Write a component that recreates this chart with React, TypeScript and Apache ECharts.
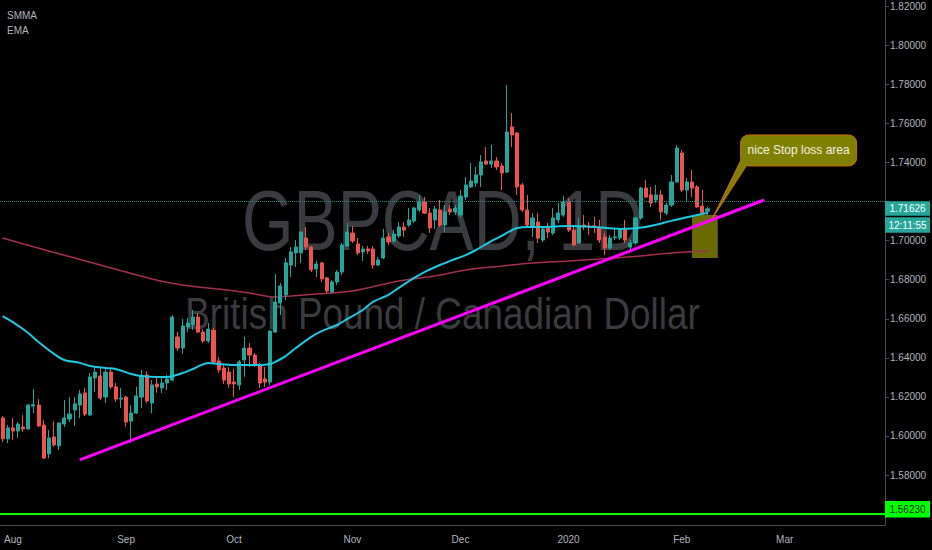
import { useEffect, useRef } from 'react';
import * as echarts from 'echarts';

const CHART_W = 932;
const CHART_H = 550;
const GRID_RIGHT = 47;
const GRID_BOTTOM = 25;
const FONT = "'Liberation Sans', Arial, sans-serif";
const WATERMARK_FONT = "'Liberation Sans', Arial, sans-serif";

// daily forex sessions, weekends and the two closed days skipped
const FIRST_SESSION = '2019-07-30';
const SESSION_COUNT = 172;
const closedDays = ['2019-12-25', '2020-01-01'];

const monthLabels: Record<string, string> = {
  '2019-08-01': 'Aug',
  '2019-09-02': 'Sep',
  '2019-10-01': 'Oct',
  '2019-11-01': 'Nov',
  '2019-12-02': 'Dec',
  '2020-01-02': '2020',
  '2020-02-03': 'Feb',
  '2020-03-02': 'Mar',
};

const priceTicks = [1.56, 1.58, 1.6, 1.62, 1.64, 1.66, 1.68, 1.7, 1.72, 1.74, 1.76, 1.78, 1.8, 1.82];
// 1.56 and 1.72 sit under the price tags on the scale
const priceLabels = [1.58, 1.6, 1.62, 1.64, 1.66, 1.68, 1.7, 1.74, 1.76, 1.78, 1.8, 1.82];

// [open, close, low, high]
const candles: [number, number, number, number][] = [
  [1.6092, 1.5985, 1.5969, 1.6102], [1.5985, 1.6041, 1.5964, 1.6056], [1.6041, 1.6025, 1.598, 1.6092], [1.6025, 1.6061, 1.599, 1.6071],
  [1.6046, 1.6036, 1.602, 1.6107], [1.6036, 1.6158, 1.603, 1.6163], [1.6153, 1.616, 1.6117, 1.624], [1.6158, 1.6051, 1.6046, 1.6189],
  [1.6056, 1.5887, 1.5882, 1.6082], [1.5908, 1.599, 1.5885, 1.603], [1.5995, 1.5954, 1.5944, 1.6076], [1.5949, 1.6066, 1.5928, 1.607],
  [1.6061, 1.6092, 1.6046, 1.6184], [1.6087, 1.6112, 1.6071, 1.6199], [1.6133, 1.6164, 1.6051, 1.6199], [1.6158, 1.6215, 1.6092, 1.6235],
  [1.622, 1.6112, 1.6102, 1.6246], [1.6107, 1.6302, 1.6102, 1.6322], [1.6297, 1.6327, 1.6225, 1.6353], [1.6307, 1.6194, 1.6184, 1.6348],
  [1.6199, 1.6327, 1.6169, 1.6348], [1.6327, 1.6251, 1.624, 1.6343], [1.6251, 1.6189, 1.6174, 1.6271], [1.6189, 1.6194, 1.6143, 1.6246],
  [1.6199, 1.6071, 1.6046, 1.6205], [1.6076, 1.6117, 1.5964, 1.6158], [1.6117, 1.6205, 1.6112, 1.6251], [1.6199, 1.6307, 1.6143, 1.6338],
  [1.6312, 1.6179, 1.6169, 1.6332], [1.6169, 1.6261, 1.6117, 1.6286], [1.6266, 1.6251, 1.622, 1.6302], [1.6246, 1.6271, 1.622, 1.6307],
  [1.6271, 1.6292, 1.6235, 1.6312], [1.6286, 1.6609, 1.6281, 1.6619], [1.6507, 1.645, 1.6435, 1.6532], [1.645, 1.6563, 1.642, 1.6599],
  [1.6558, 1.6578, 1.6532, 1.6604], [1.6568, 1.6609, 1.6542, 1.6645], [1.6609, 1.6532, 1.6527, 1.6629], [1.6532, 1.6486, 1.6476, 1.6547],
  [1.6486, 1.6547, 1.6476, 1.6578], [1.6542, 1.6379, 1.6374, 1.6553], [1.6384, 1.6338, 1.6322, 1.6404], [1.6348, 1.6286, 1.6266, 1.6363],
  [1.6327, 1.6266, 1.6246, 1.6353], [1.6276, 1.6266, 1.6199, 1.6343], [1.6261, 1.6379, 1.6235, 1.6389], [1.6389, 1.645, 1.6302, 1.6507],
  [1.645, 1.6414, 1.6353, 1.6476], [1.6414, 1.6363, 1.6353, 1.6425], [1.6363, 1.6271, 1.6246, 1.6374], [1.6292, 1.6276, 1.6251, 1.6353],
  [1.6276, 1.6537, 1.6261, 1.6542], [1.6532, 1.6686, 1.6527, 1.6829], [1.6681, 1.6768, 1.6619, 1.6783], [1.6722, 1.6886, 1.6696, 1.6911],
  [1.6875, 1.6942, 1.6814, 1.6967], [1.6937, 1.6967, 1.6865, 1.7003], [1.6937, 1.7044, 1.6886, 1.7049], [1.7013, 1.6967, 1.6952, 1.707],
  [1.6967, 1.685, 1.6839, 1.6972], [1.6855, 1.688, 1.6814, 1.6896], [1.6886, 1.6804, 1.6788, 1.6891], [1.6809, 1.6742, 1.6732, 1.6814],
  [1.6737, 1.6788, 1.6732, 1.6798], [1.6788, 1.6839, 1.6773, 1.685], [1.6839, 1.6978, 1.6824, 1.6988], [1.6972, 1.7044, 1.6967, 1.709],
  [1.7039, 1.6998, 1.6988, 1.7075], [1.6983, 1.6937, 1.6926, 1.7013], [1.6942, 1.6957, 1.6896, 1.6972], [1.6957, 1.6947, 1.6932, 1.6972],
  [1.6957, 1.6875, 1.6855, 1.6972], [1.6875, 1.6901, 1.687, 1.6916], [1.6911, 1.7013, 1.6906, 1.706], [1.7019, 1.6993, 1.6978, 1.7039],
  [1.6998, 1.7034, 1.6988, 1.7054], [1.7024, 1.707, 1.7013, 1.7095], [1.707, 1.7054, 1.7019, 1.7095], [1.708, 1.7106, 1.707, 1.7167],
  [1.71, 1.7167, 1.709, 1.7172], [1.7157, 1.7198, 1.7147, 1.7234], [1.7198, 1.7141, 1.7136, 1.7223], [1.7141, 1.7065, 1.7039, 1.7167],
  [1.7106, 1.7162, 1.706, 1.7177], [1.7157, 1.708, 1.707, 1.7208], [1.708, 1.7147, 1.7044, 1.7182], [1.7162, 1.7147, 1.7131, 1.7182],
  [1.7147, 1.7167, 1.7131, 1.7182], [1.7131, 1.7228, 1.7116, 1.7259], [1.7223, 1.7285, 1.7208, 1.7326], [1.7275, 1.7305, 1.7269, 1.7397],
  [1.7295, 1.7336, 1.7275, 1.7377], [1.7336, 1.7403, 1.7275, 1.7438], [1.7408, 1.7392, 1.7387, 1.7479], [1.7392, 1.7408, 1.7372, 1.749],
  [1.7408, 1.7377, 1.7362, 1.7428], [1.7382, 1.7346, 1.7259, 1.7397], [1.7351, 1.7556, 1.7346, 1.7797], [1.7582, 1.7541, 1.7479, 1.7653],
  [1.7551, 1.7275, 1.7234, 1.7556], [1.7285, 1.7157, 1.7147, 1.7295], [1.7157, 1.708, 1.707, 1.7234], [1.707, 1.7116, 1.7019, 1.7141],
  [1.7095, 1.7013, 1.6988, 1.7141], [1.7003, 1.706, 1.6993, 1.707], [1.7065, 1.7044, 1.7013, 1.709], [1.7039, 1.7116, 1.7029, 1.7167],
  [1.7106, 1.7141, 1.709, 1.7193], [1.7131, 1.7198, 1.7121, 1.7228], [1.7198, 1.7054, 1.7044, 1.7218], [1.7054, 1.6978, 1.6972, 1.707],
  [1.6988, 1.707, 1.6985, 1.7116], [1.708, 1.707, 1.7054, 1.7131], [1.7075, 1.7068, 1.7029, 1.7095], [1.7076, 1.7069, 1.7039, 1.7121],
  [1.707, 1.7003, 1.6988, 1.7106], [1.7019, 1.6962, 1.6926, 1.7039], [1.6962, 1.7013, 1.6952, 1.7029], [1.7015, 1.7019, 1.7003, 1.7065],
  [1.7013, 1.7054, 1.7003, 1.7065], [1.7054, 1.7003, 1.6988, 1.7106], [1.6967, 1.6988, 1.6952, 1.7003], [1.6988, 1.7116, 1.6978, 1.7121],
  [1.7116, 1.7269, 1.7106, 1.7275], [1.7269, 1.7223, 1.7218, 1.731], [1.7234, 1.7193, 1.7172, 1.7275], [1.7208, 1.7234, 1.7193, 1.7285],
  [1.7234, 1.7147, 1.7106, 1.7259], [1.7141, 1.7182, 1.7131, 1.7193], [1.7182, 1.73, 1.7172, 1.7336], [1.73, 1.7474, 1.7295, 1.749],
  [1.7449, 1.7259, 1.7249, 1.7464], [1.7259, 1.73, 1.7198, 1.7321], [1.73, 1.7269, 1.7223, 1.7362], [1.7275, 1.7172, 1.717, 1.7285],
  [1.7177, 1.7141, 1.7139, 1.7259], [1.715, 1.71626, 1.7131, 1.7172],
];

// [session index, value]
const emaLine: [number, number][] = [
  [0, 1.6614], [2, 1.6583], [5, 1.6527], [7, 1.6481], [10, 1.642], [12, 1.6389], [15, 1.6374], [17, 1.6358],
  [20, 1.6348], [22, 1.6343], [25, 1.6317], [27, 1.6307], [30, 1.6302], [32, 1.6302], [35, 1.6322], [37, 1.6343],
  [40, 1.6374], [42, 1.6368], [45, 1.6363], [47, 1.6363], [50, 1.6363], [52, 1.6368], [53, 1.6379], [55, 1.6409],
  [57, 1.645], [60, 1.6507], [62, 1.6537], [65, 1.6568], [67, 1.6599], [70, 1.6645], [72, 1.6686], [75, 1.6722],
  [77, 1.6758], [80, 1.6809], [82, 1.6839], [85, 1.6875], [87, 1.6896], [90, 1.6926], [92, 1.6952], [95, 1.6998],
  [97, 1.7024], [99, 1.7054], [100, 1.7065], [102, 1.707], [105, 1.707], [110, 1.7075], [115, 1.707], [120, 1.706],
  [125, 1.707], [130, 1.7101], [135, 1.7131], [137, 1.7141],
];

const smmaLine: [number, number][] = [
  [0, 1.7013], [9, 1.6947], [19, 1.6875], [29, 1.6804], [35, 1.6773], [42, 1.6752], [48, 1.6732], [53, 1.6711],
  [56, 1.6716], [61, 1.6727], [68, 1.6742], [77, 1.6793], [84, 1.6819], [90, 1.685], [97, 1.687], [103, 1.6886],
  [110, 1.6896], [116, 1.6906], [124, 1.6921], [130, 1.6937], [137, 1.6947],
];

const trendLine: [number, number][] = [[15, 1.5877], [148, 1.7208]];
const stopZone = { fromBar: 134, toBar: 139, top: 1.7131, bottom: 1.6911 };
const noteAnchor: [number, number] = [138, 1.7116];
const NOTE_TEXT = 'nice Stop loss area';
const LAST_PRICE = 1.71626;
const COUNTDOWN = '12:11:55';
const SUPPORT_LEVEL = 1.5623;

const UP = '#26a69a';
const DOWN = '#ef5350';
const AXIS_TEXT = '#b2b5be';
const AXIS_LINE = '#4a4b50';
const OLIVE = '#808000';
const NOTE_BORDER = '#cc6a1c';
const WATERMARK = '#3a3b3e';

function tradingSessions(first: string, count: number): string[] {
  const out: string[] = [];
  const d = new Date(first + 'T00:00:00Z');
  while (out.length < count) {
    const iso = d.toISOString().slice(0, 10);
    const wd = d.getUTCDay();
    if (wd !== 0 && wd !== 6 && !closedDays.includes(iso)) out.push(iso);
    d.setUTCDate(d.getUTCDate() + 1);
  }
  return out;
}

const sessions = tradingSessions(FIRST_SESSION, SESSION_COUNT);

export default function App() {
  const chartRef = useRef<HTMLDivElement | null>(null);

  useEffect(() => {
    document.body.style.margin = '0';
    document.body.style.background = '#000';
    if (!chartRef.current) {
      return;
    }
    const chart = echarts.init(chartRef.current, null, { renderer: 'svg' });
    const isMonthStart = (_i: number, v: string) => v in monthLabels;

    chart.setOption({
      animation: false,
      backgroundColor: '#000',
      grid: { left: 0, right: GRID_RIGHT, top: 0, bottom: GRID_BOTTOM },
      legend: {
        data: ['SMMA', 'EMA'],
        orient: 'vertical',
        left: 2,
        top: 9.5,
        padding: 0,
        icon: 'none',
        itemWidth: 0,
        itemHeight: 12,
        itemGap: 3.5,
        selectedMode: false,
        textStyle: { color: AXIS_TEXT, fontSize: 10, fontFamily: FONT },
      },
      xAxis: {
        type: 'category',
        data: sessions,
        boundaryGap: true,
        axisLine: { lineStyle: { color: AXIS_LINE } },
        axisTick: { alignWithLabel: true, interval: isMonthStart, length: 4, lineStyle: { color: AXIS_LINE } },
        axisLabel: {
          interval: isMonthStart,
          formatter: (v: string) => monthLabels[v] ?? '',
          color: AXIS_TEXT,
          fontSize: 10,
          fontFamily: FONT,
          margin: 9,
        },
        splitLine: { show: false },
      },
      yAxis: {
        type: 'value',
        position: 'right',
        min: 1.5544,
        max: 1.8232,
        axisLine: { show: true, lineStyle: { color: AXIS_LINE } },
        axisTick: { show: true, customValues: priceTicks, length: 4, lineStyle: { color: AXIS_LINE } },
        axisLabel: {
          customValues: priceLabels,
          formatter: (v: number) => v.toFixed(5),
          color: AXIS_TEXT,
          fontSize: 10,
          fontFamily: FONT,
          margin: 5,
        },
        splitLine: { show: false },
      },
      series: [
        {
          name: 'GBPCAD',
          type: 'candlestick',
          data: candles,
          barWidth: 3.6,
          z: 3,
          itemStyle: { color: UP, color0: DOWN, borderColor: UP, borderColor0: DOWN, borderWidth: 1 },
          markLine: {
            silent: true,
            symbol: 'none',
            label: { show: false },
            data: [
              { yAxis: LAST_PRICE, lineStyle: { color: '#1f8a80', type: 'dotted', width: 1 } },
              { yAxis: SUPPORT_LEVEL, lineStyle: { color: '#00ff00', type: 'solid', width: 2 } },
            ],
          },
        },
        {
          name: 'SMMA',
          type: 'line',
          data: smmaLine,
          showSymbol: false,
          smooth: 0.3,
          z: 2,
          lineStyle: { color: '#a3304f', width: 1.5 },
          itemStyle: { color: '#a3304f' },
        },
        {
          name: 'EMA',
          type: 'line',
          data: emaLine,
          showSymbol: false,
          smooth: 0.3,
          z: 4,
          lineStyle: { color: '#1ec8e0', width: 2 },
          itemStyle: { color: '#1ec8e0' },
        },
        {
          name: 'Trend',
          type: 'line',
          data: trendLine,
          showSymbol: false,
          z: 5,
          lineStyle: { color: '#ff00ff', width: 3 },
        },
        {
          name: 'Stop zone',
          type: 'line',
          data: [],
          z: 6,
          markArea: {
            silent: true,
            itemStyle: { color: 'rgba(128,128,0,0.82)' },
            data: [
              [
                { xAxis: sessions[stopZone.fromBar], yAxis: stopZone.top },
                { xAxis: sessions[stopZone.toBar], yAxis: stopZone.bottom },
              ],
            ],
          },
        },
      ],
    });

    const plotW = CHART_W - GRID_RIGHT;
    const yOf = (v: number) => chart.convertToPixel({ yAxisIndex: 0 }, v) as number;
    const tip = chart.convertToPixel({ gridIndex: 0 }, [noteAnchor[0], noteAnchor[1]]) as number[];
    const yLast = yOf(LAST_PRICE);
    const ySupport = yOf(SUPPORT_LEVEL);
    const box = { x: tip[0] + 28, y: tip[1] - 83, w: 116, h: 31 };
    const tailL = [box.x + 0.3, box.y + 25.1];
    const tailR = [box.x + 5.9, box.y + 30.7];
    const tailC = [box.x + 8, box.y + 23];

    chart.setOption({
      graphic: [
        {
          type: 'text',
          z: -10,
          x: plotW / 2,
          y: 220,
          scaleX: 0.77,
          silent: true,
          style: { text: 'GBPCAD, 1D', fill: WATERMARK, fontSize: 86, fontFamily: WATERMARK_FONT, align: 'center', verticalAlign: 'middle' },
        },
        {
          type: 'text',
          z: -10,
          x: plotW / 2,
          y: 314,
          scaleX: 0.82,
          silent: true,
          style: { text: 'British Pound / Canadian Dollar', fill: WATERMARK, fontSize: 45, fontFamily: WATERMARK_FONT, align: 'center', verticalAlign: 'middle' },
        },
        { type: 'rect', z: 100, shape: { x: plotW, y: yLast - 7.5, width: 45, height: 14.5 }, style: { fill: UP } },
        {
          type: 'text',
          z: 101,
          x: plotW + 22.5,
          y: yLast - 0.25,
          style: { text: LAST_PRICE.toFixed(5), fill: '#ffffff', fontSize: 10, fontFamily: FONT, align: 'center', verticalAlign: 'middle' },
        },
        { type: 'rect', z: 100, shape: { x: plotW, y: yLast + 8.5, width: 45, height: 15.5 }, style: { fill: UP } },
        {
          type: 'text',
          z: 101,
          x: plotW + 22.5,
          y: yLast + 16.25,
          style: { text: COUNTDOWN, fill: '#ffffff', fontSize: 10, fontFamily: FONT, align: 'center', verticalAlign: 'middle' },
        },
        { type: 'rect', z: 100, shape: { x: plotW, y: ySupport - 8.5, width: 45, height: 16.5 }, style: { fill: '#00ff00' } },
        {
          type: 'text',
          z: 101,
          x: plotW + 22.5,
          y: ySupport - 0.25,
          style: { text: SUPPORT_LEVEL.toFixed(5), fill: '#0a2a0a', fontSize: 10, fontFamily: FONT, align: 'center', verticalAlign: 'middle' },
        },
        {
          type: 'rect',
          z: 100,
          shape: { x: box.x, y: box.y, width: box.w, height: box.h, r: 8 },
          style: { fill: OLIVE, stroke: NOTE_BORDER, lineWidth: 1 },
        },
        { type: 'polygon', z: 101, shape: { points: [tip, tailL, tailC, tailR] }, style: { fill: OLIVE } },
        { type: 'polyline', z: 102, shape: { points: [tailL, tip, tailR] }, style: { stroke: NOTE_BORDER, lineWidth: 1, fill: null } },
        {
          type: 'text',
          z: 103,
          x: box.x + box.w / 2,
          y: box.y + box.h / 2,
          style: { text: NOTE_TEXT, fill: '#f2f2e4', fontSize: 12, fontFamily: FONT, align: 'center', verticalAlign: 'middle' },
        },
      ],
    });

    return () => chart.dispose();
  }, []);

  return (
    <div
      ref={chartRef}
      style={{ position: 'fixed', left: 0, top: 0, width: CHART_W, height: CHART_H, background: '#000' }}
    />
  );
}
